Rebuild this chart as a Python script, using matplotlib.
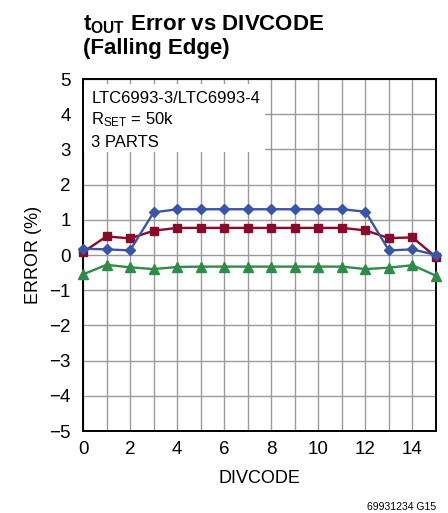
"""tOUT error vs DIVCODE (falling edge), three parts."""
import matplotlib

matplotlib.use("Agg")
import matplotlib.pyplot as plt
from matplotlib.patches import Rectangle

divcode = list(range(16))
part_blue = [0.18, 0.16, 0.13, 1.21, 1.30, 1.30, 1.30, 1.30, 1.30, 1.30, 1.30, 1.30, 1.23, 0.13, 0.16, 0.00]
part_red = [0.08, 0.53, 0.47, 0.69, 0.77, 0.77, 0.77, 0.77, 0.77, 0.77, 0.77, 0.77, 0.70, 0.48, 0.50, -0.06]
part_green = [-0.55, -0.28, -0.35, -0.40, -0.34, -0.33, -0.33, -0.33, -0.33, -0.33, -0.33, -0.33, -0.40, -0.36, -0.29, -0.59]
x_labels = [0, 2, 4, 6, 8, 10, 12, 14]
y_ticks = [-5, -4, -3, -2, -1, 0, 1, 2, 3, 4, 5]

FONT = ["Liberation Sans", "DejaVu Sans"]
matplotlib.rcParams.update({
    "font.family": FONT,
    "font.size": 13,
    "mathtext.fontset": "custom",
    "mathtext.rm": "Liberation Sans",
    "mathtext.it": "Liberation Sans",
    "mathtext.bf": "Liberation Sans:bold",
    "axes.unicode_minus": True,
})

fig = plt.figure(figsize=(4.48, 5.13), dpi=100)
ax = fig.add_axes([83 / 448, 82 / 513, 353 / 448, 352 / 513])

ax.set_xlim(0, 15)
ax.set_ylim(-5, 5)
ax.set_xticks(x_labels)
ax.set_xticks(divcode, minor=True)
ax.set_yticks(y_ticks)
ax.set_yticklabels([f"{v}".replace("-", "\u2212") for v in y_ticks])
ax.grid(True, which="both", color="#9a9a9a", linewidth=1.0)
ax.set_axisbelow(True)
ax.tick_params(which="both", length=0, labelsize=13.5)
ax.tick_params(axis="x", pad=7)
ax.tick_params(axis="y", pad=9)
for spine in ax.spines.values():
    spine.set_linewidth(1.4)
    spine.set_color("black")

# white label box that hides the grid behind the notes
ax.add_patch(Rectangle((0, 2.92), 7.75, 4.86 - 2.92, facecolor="white",
                       edgecolor="none", zorder=1))

ax.plot(divcode, part_green, color="#2f8c48", marker="^", markersize=7,
        linewidth=1.7, zorder=3, clip_on=False)
ax.plot(divcode, part_red, color="#8a0a2c", marker="s", markersize=6,
        linewidth=1.7, zorder=4, clip_on=False)
ax.plot(divcode, part_blue, color="#3a55a8", marker="D", markersize=5.5,
        linewidth=1.7, zorder=5, clip_on=False)

ax.text(0.35, 4.32, "LTC6993-3/LTC6993-4", fontsize=12, zorder=6)
ax.text(0.35, 3.70, r"R$_{\mathrm{SET}}$ = 50k", fontsize=12, zorder=6)
ax.text(0.35, 3.07, "3 PARTS", fontsize=12, zorder=6)

ax.set_xlabel("DIVCODE", fontsize=13, labelpad=9)
ax.set_ylabel("ERROR (%)", fontsize=13, labelpad=5)

fig.text(83 / 448, 1 - 30 / 513, r"t$_{\mathbf{OUT}}$ Error vs DIVCODE",
         fontsize=16, fontweight="bold", va="baseline", ha="left")
fig.text(83 / 448, 1 - 54 / 513, "(Falling Edge)",
         fontsize=16, fontweight="bold", va="baseline", ha="left")
fig.text(436 / 448, 1 - 507 / 513, "69931234 G15", fontsize=7.5,
         ha="right", va="center")

fig.savefig("out.png", dpi=100)
plt.close(fig)
